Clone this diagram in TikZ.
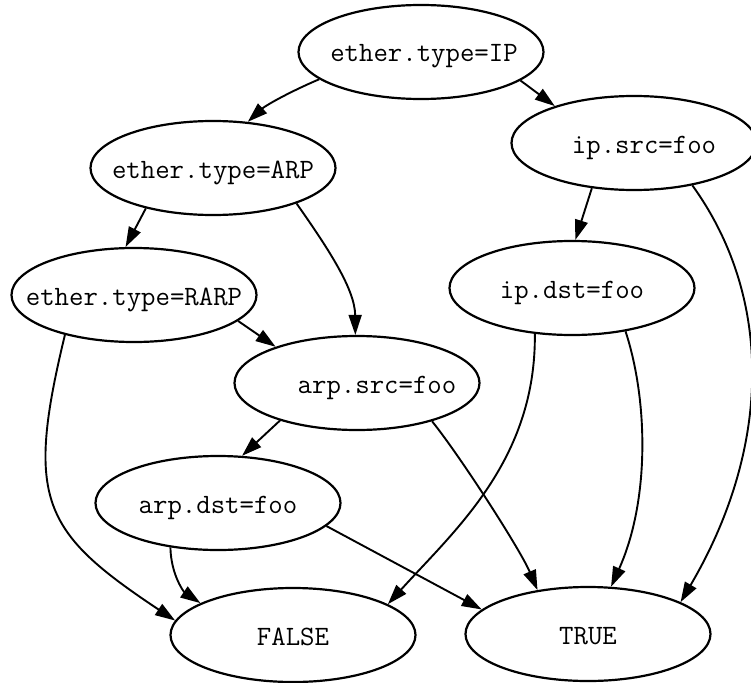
\documentclass[tikz,border=0pt]{standalone}
\usepackage{fontspec}
\usetikzlibrary{shapes.geometric,arrows.meta}
% label of fixed zero width, optionally pushed right by half of #1
\newcommand\ntext[2][0pt]{\makebox[0pt]{\hspace*{#1}#2}}
\tikzset{
  test/.style={ellipse, draw, line width=2.2pt, inner sep=0pt,
    minimum width=245pt, minimum height=94pt,
    text height=20pt, text depth=0pt,
    font=\ttfamily\fontsize{28}{28}\selectfont},
  edge/.style={line width=1.9pt, -{Triangle[length=20pt,width=13pt]}}
}
\begin{document}
\begin{tikzpicture}[x=1pt, y=-1pt]
\useasboundingbox (0,0) rectangle (751,682);
\fill[white] (0,0) rectangle (751,682);

% predicate tests
\node[test] (ip)     at (421,52)  {\ntext[6pt]{ether.type=IP}};
\node[test] (ipsrc)  at (634,143) {\ntext[20pt]{ip.src=foo}};
\node[test] (arp)    at (213,168) {\ntext{ether.type=ARP}};
\node[test] (ipdst)  at (572,288) {\ntext{ip.dst=foo}};
\node[test] (rarp)   at (134,295) {\ntext{ether.type=RARP}};
\node[test] (arpsrc) at (357,383) {\ntext[40pt]{arp.src=foo}};
\node[test] (arpdst) at (218,503) {\ntext{arp.dst=foo}};
% outcomes
\node[test] (false)  at (293,635) {\ntext{FALSE}};
\node[test] (true)   at (588,634) {\ntext{TRUE}};

% decision edges
\draw[edge] (ip.195.1) .. controls (287,93) and (265,106) .. (arp.53.5);
\draw[edge] (ip.-16.3) -- (ipsrc.155.5);
\draw[edge] (arp.211.2) -- (rarp.100.6);
\draw[edge] (arp.-23.1) .. controls (330,251) and (355,290) .. (arpsrc.92.5);
\draw[edge] (rarp.-14.6) -- (arpsrc.156.9);
\draw[edge] (rarp.210.1) .. controls (25,500) and (42,532) .. (false.173.1);
\draw[edge] (arpsrc.206.9) -- (arpdst.63.4);
\draw[edge] (arpsrc.-27.2) .. controls (460,456) and (520,549) .. (true.139.1);
\draw[edge] (arpdst.223.7) .. controls (171,575) and (184,592) .. (false.161.6);
\draw[edge] (arpdst.-12.9) -- (true.167.1);
\draw[edge] (ipsrc.227.7) -- (ipdst.86.3);
\draw[edge] (ipsrc.-36.9) .. controls (775,300) and (770,450) .. (true.19.2);
\draw[edge] (ipdst.231.3) .. controls (536,460) and (455,530) .. (false.18.6);
\draw[edge] (ipdst.-39.7) .. controls (648,400) and (650,500) .. (true.64.9);
\end{tikzpicture}
\end{document}
